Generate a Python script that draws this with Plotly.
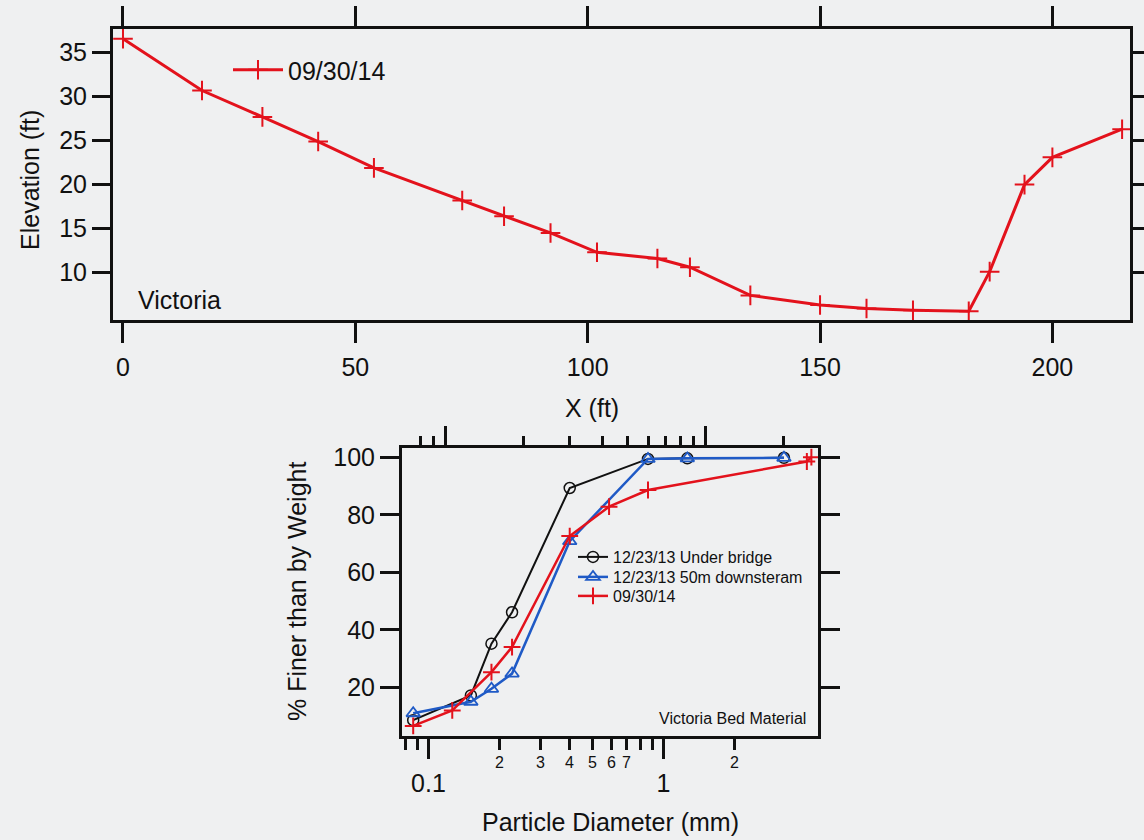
import math
import plotly.graph_objects as go

# ---- Cross-section survey, 09/30/14 ----
station_ft = [0, 17, 30, 42, 54, 73, 82, 92, 102, 115, 122, 135, 150, 160, 170, 182, 186.5, 194, 200, 215]
elevation_ft = [36.6, 30.7, 27.7, 24.9, 21.9, 18.2, 16.4, 14.5, 12.3, 11.6, 10.6, 7.4, 6.3, 5.9, 5.7, 5.6, 10.1, 20.0, 23.1, 26.3]

# ---- Victoria bed material gradation ----
sieve_mm_1223 = [0.075, 0.125, 0.15, 0.18, 0.3, 0.6, 0.85, 2.0]
finer_under_bridge = [8.6, 17.2, 35.2, 46.1, 89.3, 99.4, 99.6, 99.8]
finer_50m_downstream = [11.0, 15.0, 19.5, 24.8, 70.8, 99.4, 99.6, 99.8]
sieve_mm_0930 = [0.075, 0.106, 0.15, 0.18, 0.3, 0.425, 0.6, 2.45, 2.55]
finer_0930 = [6.6, 12.0, 25.3, 34.0, 72.6, 82.8, 88.6, 98.5, 100.0]

# ---- tick definitions ----
x_ticks_section = [0, 50, 100, 150, 200]
y_ticks_section = [10, 15, 20, 25, 30, 35]
y_ticks_finer = [20, 40, 60, 80, 100]
diam_major = [0.1, 1]
diam_major_text = ["0.1", "1"]
diam_minor = [0.08, 0.09, 0.2, 0.3, 0.4, 0.5, 0.6, 0.7, 0.8, 0.9, 2]
diam_minor_labeled = [0.2, 0.3, 0.4, 0.5, 0.6, 0.7, 2]
diam_minor_text = ["2", "3", "4", "5", "6", "7", "2"]

W, H = 1144, 840
BG = "#eff0f1"
INK = "#111111"
RED = "#e3121c"
BLUE = "#1f5ac6"
FONT = "Liberation Sans, Arial, sans-serif"


def fx(px):
    return px / W


def fy(px):
    return 1 - px / H


fig = go.Figure()

fig.add_trace(go.Scatter(
    x=station_ft, y=elevation_ft, name="09/30/14", mode="lines+markers",
    line=dict(color=RED, width=3),
    marker=dict(symbol="cross-thin", size=14, line=dict(color=RED, width=2)),
    xaxis="x", yaxis="y", legend="legend",
))

fig.add_trace(go.Scatter(
    x=sieve_mm_1223, y=finer_under_bridge, name="12/23/13 Under bridge", mode="lines+markers",
    line=dict(color=INK, width=2),
    marker=dict(symbol="circle-open", size=11, color=INK, line=dict(width=1.5)),
    xaxis="x3", yaxis="y2", legend="legend2",
))
fig.add_trace(go.Scatter(
    x=sieve_mm_1223, y=finer_50m_downstream, name="12/23/13 50m downsteram", mode="lines+markers",
    line=dict(color=BLUE, width=2.5),
    marker=dict(symbol="triangle-up-open", size=12, color=BLUE, line=dict(width=1.8)),
    xaxis="x3", yaxis="y2", legend="legend3",
))
fig.add_trace(go.Scatter(
    x=sieve_mm_0930, y=finer_0930, name="09/30/14", mode="lines+markers",
    line=dict(color=RED, width=2.5),
    marker=dict(symbol="cross-thin", size=12, color=RED, line=dict(width=2, color=RED)),
    xaxis="x3", yaxis="y2", legend="legend4",
))

axis_base = dict(
    showline=True, linecolor=INK, linewidth=3,
    ticks="outside", tickcolor=INK, tickwidth=3,
    showgrid=False, zeroline=False, automargin=False,
    tickfont=dict(family=FONT, size=25, color=INK),
)

minor_ticks = dict(tickmode="array", tickvals=diam_minor, ticklen=11, tickwidth=3,
                   tickcolor=INK, ticks="outside")


def small_legend(ypx):
    return dict(x=fx(573), y=fy(ypx), xanchor="left", yanchor="middle",
                bgcolor="rgba(0,0,0,0)", font=dict(family=FONT, size=16, color=INK))


fig.update_layout(
    width=W, height=H,
    margin=dict(l=0, r=0, t=0, b=0),
    paper_bgcolor=BG, plot_bgcolor=BG,
    font=dict(family=FONT, color=INK),
    showlegend=True,
    xaxis=dict(axis_base, domain=[fx(113), fx(1130)], range=[-2.15, 216.7],
               tickmode="array", tickvals=x_ticks_section, ticklen=20,
               ticklabelstandoff=3, mirror="allticks", anchor="y"),
    yaxis=dict(axis_base, domain=[fy(320), fy(29)], range=[4.6, 37.7],
               tickmode="array", tickvals=y_ticks_section, ticklen=18,
               mirror="allticks", anchor="x"),
    xaxis2=dict(axis_base, type="log", domain=[fx(402), fx(818)],
                range=[math.log10(0.0772), math.log10(4.55)],
                tickmode="array", tickvals=diam_major, ticktext=diam_major_text, ticklen=20,
                ticklabelstandoff=3, minor=minor_ticks, mirror=True, anchor="y2"),
    xaxis3=dict(axis_base, type="log", domain=[fx(402), fx(818)],
                range=[-1.168, 0.432], overlaying="x2", side="top", anchor="y2",
                showline=False, showticklabels=False,
                tickmode="array", tickvals=diam_major, ticklen=21,
                minor=minor_ticks),
    yaxis2=dict(axis_base, domain=[fy(736), fy(448)], range=[3.1, 103.2],
                tickmode="array", tickvals=y_ticks_finer, ticklen=19,
                mirror="allticks", anchor="x2"),
    legend=dict(x=fx(228), y=fy(70), xanchor="left", yanchor="middle", itemwidth=50,
                bgcolor="rgba(0,0,0,0)", font=dict(family=FONT, size=25, color=INK)),
    legend2=small_legend(557),
    legend3=small_legend(577),
    legend4=small_legend(596),
)

annotations = [
    dict(text="X (ft)", x=fx(592), y=fy(408)),
    dict(text="Elevation (ft)", x=fx(30), y=fy(180), textangle=-90),
    dict(text="Victoria", x=fx(136), y=fy(300), xanchor="left", font=dict(size=25)),
    dict(text="Particle Diameter (mm)", x=fx(610), y=fy(822)),
    dict(text="% Finer than by Weight", x=fx(297), y=fy(592), textangle=-90),
    dict(text="Victoria Bed Material", x=fx(808), y=fy(718), xanchor="right",
         font=dict(size=16)),
]
for a in annotations:
    a.update(xref="paper", yref="paper", yanchor="middle", showarrow=False)
    a.setdefault("xanchor", "center")
    a.setdefault("font", dict(size=25))
for d, t in zip(diam_minor_labeled, diam_minor_text):
    annotations.append(dict(text=t, x=math.log10(d), y=fy(762), xref="x2", yref="paper",
                            xanchor="center", yanchor="middle", showarrow=False,
                            font=dict(size=16)))
fig.update_layout(annotations=annotations)

fig.write_html("out.html")
